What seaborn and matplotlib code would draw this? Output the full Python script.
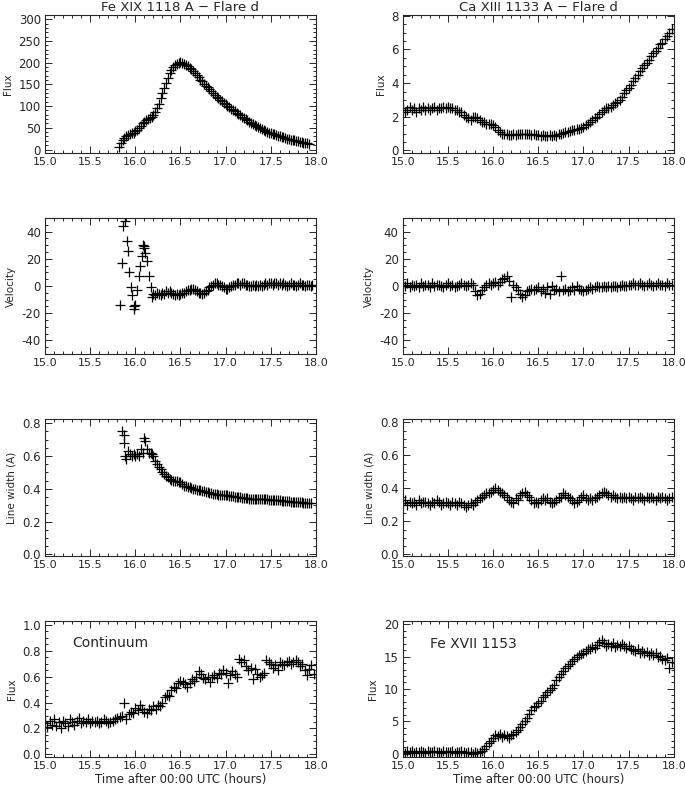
import numpy as np
import pandas as pd
import matplotlib
matplotlib.use("Agg")
import matplotlib.pyplot as plt
from matplotlib.ticker import MultipleLocator, FormatStrFormatter
import seaborn as sns

# ---------------------- DATOS ----------------------
# Fe XIX 1118 A: cadencia 0.02 h desde 15.82 h
fe19_t0 = 15.82
fe19_flux = [5, 15, 22, 27, 30, 33, 36, 38, 37, 42, 46, 50, 55, 60, 63, 67, 70, 72, 76, 79,
             86, 95, 105, 118, 130, 142, 153, 165, 176, 184, 190, 195, 198, 200, 201, 199, 197, 195,
             192, 188, 185, 181, 176, 171, 166, 161, 157, 152, 147, 143, 139, 134, 130, 126, 122,
             119, 115, 111, 107, 104, 100, 97, 94, 91, 88, 85, 82, 79, 76, 73, 70, 67, 64, 61, 58,
             56, 54, 51, 49, 47, 45, 43, 41, 39, 38, 36, 35, 33, 32, 31, 29, 28, 26, 25, 24, 23,
             22, 21, 20, 19, 18, 17, 16, 15, 14, 13]

# velocidad Fe XIX: rafaga inicial (tiempos irregulares) y despues cadencia 0.02 h desde 16.20
fe19_vel_burst_t = [15.83, 15.85, 15.86, 15.89, 15.905, 15.915, 15.93, 15.95, 15.96, 15.98,
                    15.99, 16.00, 16.02, 16.04, 16.05, 16.07, 16.08, 16.095, 16.10, 16.11,
                    16.13, 16.15, 16.17, 16.19]
fe19_vel_burst = [-14, 17, 44, 48, 33, 26, 10, -1, -7, -15, -17, -14, -3, 7, 15, 22, 30, 28, 29,
                  24, 18, 7, -1, -8]
fe19_vel_t0 = 16.20
fe19_vel = [-6, -7, -5, -6, -7, -5, -6, -4, -5, -4, -5, -6, -7, -6, -7, -6, -5, -5, -4, -3,
            -3, -2, -2, -3, -4, -5, -5, -6, -5, -4, -3, -1, 0, 1, 2, 2, 1, 1, 0, -1,
            -2, -2, -1, 0, 1, 1, 2, 2, 1, 2, 2, 1, 1, 0, 0, 1, 0, 1, 0, 1,
            0, 1, 2, 1, 2, 2, 1, 2, 2, 1, 2, 1, 2, 1, 0, 1, 2, 1, 1, 0,
            1, 2, 1, 1, 0, 1, 1, 0, 1]

fe19_wid_burst_t = [15.85, 15.87, 15.88, 15.89, 15.90, 15.92, 15.94, 15.96, 15.98, 16.00,
                    16.02, 16.04, 16.06, 16.08, 16.10, 16.11, 16.13, 16.15, 16.17, 16.19]
fe19_wid_burst = [0.75, 0.73, 0.68, 0.60, 0.58, 0.63, 0.61, 0.60, 0.61, 0.60,
                  0.61, 0.60, 0.64, 0.62, 0.71, 0.69, 0.64, 0.62, 0.62, 0.61]
fe19_wid_t0 = 16.20
fe19_wid = [0.60, 0.57, 0.55, 0.53, 0.52, 0.50, 0.49, 0.48, 0.47, 0.46, 0.455, 0.45, 0.45,
            0.445, 0.44, 0.44, 0.43, 0.42, 0.415, 0.41, 0.41, 0.405, 0.40, 0.40, 0.395,
            0.39, 0.39, 0.385, 0.385, 0.38, 0.38, 0.375, 0.375, 0.37, 0.37, 0.37, 0.365, 0.365,
            0.36, 0.36, 0.36, 0.36, 0.355, 0.355, 0.355, 0.35, 0.35, 0.35, 0.35, 0.345,
            0.345, 0.345, 0.345, 0.34, 0.34, 0.34, 0.34, 0.34, 0.34, 0.335, 0.335, 0.335, 0.335,
            0.335, 0.33, 0.33, 0.33, 0.33, 0.33, 0.33, 0.33, 0.325, 0.325, 0.325, 0.325,
            0.325, 0.32, 0.32, 0.32, 0.32, 0.32, 0.32, 0.32, 0.315, 0.315, 0.315, 0.315, 0.315]

# Ca XIII 1133 A, continuo y Fe XVII 1153: cadencia 0.025 h desde 15.00 h
full_t0 = 15.0
ca13_flux = [2.5, 2.3, 2.4, 2.6, 2.4, 2.5, 2.3, 2.5, 2.4, 2.6, 2.4, 2.5, 2.4, 2.5, 2.6, 2.4,
             2.5, 2.5, 2.6, 2.5, 2.6, 2.5, 2.5, 2.4, 2.4,
             2.3, 2.3, 2.1, 2.0, 1.9, 1.8, 2.0, 2.0, 1.9, 1.8, 1.7, 1.7, 1.6, 1.6, 1.6, 1.5, 1.4,
             1.2, 1.1, 1.0,
             1.0, 0.95, 0.9, 0.9, 0.95, 0.9, 1.0, 1.0, 1.0, 0.95, 1.0, 0.95, 0.9, 0.95, 0.9, 0.9,
             0.85, 0.9, 0.85, 0.85, 0.9, 0.85, 0.9, 0.85, 0.95,
             1.0, 1.05, 1.1, 1.1, 1.15, 1.2, 1.2, 1.25, 1.3, 1.35, 1.4, 1.5, 1.6, 1.7, 1.8, 1.9,
             2.0, 2.15, 2.3, 2.4, 2.5, 2.55, 2.6, 2.7, 2.8,
             2.9, 3.0, 3.2, 3.4, 3.6, 3.7, 3.9, 4.1, 4.3, 4.5, 4.7, 4.9, 5.1, 5.2, 5.4, 5.6, 5.8,
             5.9, 6.1, 6.3, 6.4, 6.6, 6.8, 7.0, 7.2]

ca13_vel = [1, 0, 2, -1, 1, 0, 1, -1, 2, 0, 1, 1, -1, 2, 0, 1, 1, 0, -1, 1, 2, 0, 1, -1, 0, 1,
            2, 1, 0, 1, 2, 1,
            -4, -7, -6, -3, -1, 1, 2, 1, 2, 3, 1, 3, 5, 6, 7, 4, -8, 1, -1, -3, -6, -8, -7, -4, -3,
            -2, -3, -2, -1, -4, -2, -5, -1, -6, 0, -3, -2, -4, 7, -3, -2, -4, -3, -1, -3, 0, -2,
            -3, -4, -3,
            -2, -1, -2, -1, 0, -1, -1, 0, -1, 0, -1, 0, 0, -1, 0, 1, 0, 0, 1, 1, 2, 1, 1, 2, 1,
            0, 1, 2, 1, 0, 1, 2, 1, 1, 0, 2, 1, 1]

ca13_wid = [0.31, 0.33, 0.30, 0.32, 0.31, 0.32, 0.30, 0.33, 0.31, 0.32, 0.32, 0.31, 0.30, 0.32,
            0.31, 0.33, 0.32, 0.30, 0.31, 0.32, 0.31, 0.30, 0.32, 0.31, 0.30, 0.32, 0.31, 0.30,
            0.29,
            0.30, 0.31, 0.30, 0.32, 0.33, 0.34, 0.35, 0.36, 0.37, 0.37, 0.38, 0.39, 0.40, 0.39,
            0.38, 0.37, 0.36, 0.35, 0.33, 0.32, 0.31,
            0.34, 0.33, 0.36, 0.37, 0.38, 0.36, 0.35, 0.33, 0.31, 0.32, 0.31, 0.33, 0.34, 0.33,
            0.34, 0.32, 0.31, 0.32, 0.33, 0.34, 0.35, 0.37, 0.36, 0.35, 0.34,
            0.33, 0.31, 0.32, 0.33, 0.35, 0.36, 0.34, 0.33, 0.34, 0.33, 0.34, 0.35, 0.36, 0.37,
            0.38, 0.37, 0.36, 0.35, 0.36, 0.35, 0.34, 0.35, 0.34, 0.35, 0.34,
            0.35, 0.34, 0.33, 0.35, 0.34, 0.35, 0.34, 0.33, 0.35, 0.34, 0.35, 0.34, 0.33, 0.35,
            0.34, 0.35, 0.34, 0.33, 0.34, 0.35]

cont_flux = [0.24, 0.21, 0.26, 0.23, 0.27, 0.22, 0.25, 0.20, 0.26, 0.24, 0.22, 0.27, 0.25, 0.23,
             0.26, 0.28, 0.24, 0.26, 0.25, 0.27, 0.24, 0.26, 0.25, 0.26, 0.24, 0.25, 0.27, 0.26,
             0.24, 0.25, 0.26,
             0.27, 0.28, 0.29, 0.30, 0.40, 0.27, 0.31, 0.33, 0.32, 0.36, 0.34, 0.38, 0.35, 0.33,
             0.32, 0.35, 0.34, 0.37, 0.35, 0.38, 0.37, 0.40, 0.44, 0.46, 0.45,
             0.50, 0.52, 0.51, 0.55, 0.57, 0.56, 0.54, 0.52, 0.55, 0.58, 0.57, 0.60, 0.64, 0.62,
             0.59, 0.58, 0.60, 0.56, 0.60, 0.61, 0.59, 0.63, 0.62, 0.65, 0.63,
             0.55, 0.61, 0.64, 0.62, 0.60, 0.74, 0.71, 0.73, 0.68, 0.65, 0.67, 0.58, 0.66, 0.62,
             0.60, 0.61, 0.63, 0.73, 0.71, 0.70, 0.67, 0.69, 0.65, 0.71, 0.70,
             0.69, 0.71, 0.72, 0.70, 0.71, 0.73, 0.71, 0.68, 0.70, 0.65, 0.61, 0.66, 0.69, 0.62]

fe17_flux = [0.3, 0.1, 0.4, 0.2, 0.5, 0.1, 0.3, 0.2, 0.4, 0.3, 0.1, 0.4, 0.2, 0.3, 0.5, 0.2,
             0.3, 0.1, 0.4, 0.3, 0.2, 0.3, 0.4, 0.1, 0.3, 0.2, 0.4, 0.3, 0.1, 0.2, 0.3, 0.0, 0.2,
             0.1, 0.3,
             0.4, 0.8, 1.2, 1.6, 2.0, 2.4, 2.9, 2.7, 3.0, 2.6, 2.9, 2.8, 2.5, 2.9, 3.1, 3.4, 3.7,
             4.1, 4.6, 5.0, 5.5, 6.1, 6.8, 7.2, 7.4,
             7.9, 8.2, 8.7, 9.1, 9.5, 9.8, 10.2, 10.6, 11.4, 11.9, 12.3, 12.8, 13.3, 13.6, 13.9,
             14.3, 14.6, 14.9, 15.2, 15.4, 15.6, 15.9, 16.1, 16.2, 16.4,
             16.3, 16.8, 17.2, 17.5, 17.1, 16.7, 17.0, 16.6, 17.1, 16.5, 16.8, 16.6, 17.0, 16.7,
             16.3, 16.6, 16.2, 16.0, 15.8, 16.1, 15.6, 15.9, 15.5, 15.7, 15.3,
             15.6, 15.2, 15.5, 15.0, 15.1, 14.7, 14.5, 14.8, 13.2, 14.2]

TITLES = ["Fe XIX 1118 A \u2212 Flare d", "Ca XIII 1133 A \u2212 Flare d"]
XLABEL = "Time after 00:00 UTC (hours)"
# --------------------------------------------------------------------------


def grid(t0, step, values):
    return np.round(t0 + step * np.arange(len(values)), 3)


sns.set_style("ticks")
plt.rcParams["font.family"] = ["DejaVu Sans"]
plt.rcParams.update({
    "xtick.direction": "in", "ytick.direction": "in",
    "xtick.top": True, "ytick.right": True,
    "xtick.minor.visible": True, "ytick.minor.visible": True,
    "xtick.major.size": 5, "ytick.major.size": 5,
    "xtick.minor.size": 2.5, "ytick.minor.size": 2.5,
    "xtick.major.width": 0.7, "ytick.major.width": 0.7,
    "xtick.minor.width": 0.7, "ytick.minor.width": 0.7,
    "axes.linewidth": 0.8, "font.size": 8,
    "xtick.labelsize": 8, "ytick.labelsize": 8.5,
})

fig = plt.figure(figsize=(6.85, 7.91), dpi=100)
lefts = [0.0657, 0.588]
bottoms = [0.8066, 0.5525, 0.2971, 0.0430]
heights = [0.1745, 0.172, 0.173, 0.172]
width = 0.3956
axes = [[fig.add_axes([l, b, width, h]) for l in lefts] for b, h in zip(bottoms, heights)]


def cruces(ax, t, y):
    df = pd.DataFrame({"t": t, "y": y})
    sns.scatterplot(data=df, x="t", y="y", marker="+", color="black", s=60,
                    linewidth=0.9, ax=ax, legend=False)


fe19_t = grid(fe19_t0, 0.02, fe19_flux)
cruces(axes[0][0], fe19_t, fe19_flux)
cruces(axes[1][0], np.concatenate([fe19_vel_burst_t, grid(fe19_vel_t0, 0.02, fe19_vel)]),
       fe19_vel_burst + fe19_vel)
cruces(axes[2][0], np.concatenate([fe19_wid_burst_t, grid(fe19_wid_t0, 0.02, fe19_wid)]),
       fe19_wid_burst + fe19_wid)
cruces(axes[3][0], grid(full_t0, 0.025, cont_flux), cont_flux)

cruces(axes[0][1], grid(full_t0, 0.025, ca13_flux), ca13_flux)
cruces(axes[1][1], grid(full_t0, 0.025, ca13_vel), ca13_vel)
cruces(axes[2][1], grid(full_t0, 0.025, ca13_wid), ca13_wid)
cruces(axes[3][1], grid(full_t0, 0.025, fe17_flux), fe17_flux)

# limites y ticks de cada panel: (ylim, mayor, menor, formato, etiqueta)
config = [
    [((-8, 310), 50, 10, "%d", "Flux"), ((-0.15, 8.05), 2, 0.5, "%d", "Flux")],
    [((-50, 50), 20, 5, "%d", "Velocity"), ((-50, 50), 20, 5, "%d", "Velocity")],
    [((-0.01, 0.825), 0.2, 0.05, "%.1f", "Line width (A)"),
     ((-0.01, 0.82), 0.2, 0.05, "%.1f", "Line width (A)")],
    [((-0.02, 1.03), 0.2, 0.05, "%.1f", "Flux"), ((-0.5, 20.5), 5, 1, "%d", "Flux")],
]

for i, row in enumerate(axes):
    for j, ax in enumerate(row):
        ylim, major, minor, fmt, label = config[i][j]
        ax.set_xlim(15.0, 18.0)
        ax.set_ylim(*ylim)
        ax.xaxis.set_major_locator(MultipleLocator(0.5))
        ax.xaxis.set_minor_locator(MultipleLocator(0.1))
        ax.xaxis.set_major_formatter(FormatStrFormatter("%.1f"))
        ax.yaxis.set_major_locator(MultipleLocator(major))
        ax.yaxis.set_minor_locator(MultipleLocator(minor))
        ax.yaxis.set_major_formatter(FormatStrFormatter(fmt))
        ax.set_ylabel(label, fontsize=7.5)
        ax.set_xlabel(XLABEL if i == 3 else "", fontsize=8.5, labelpad=1)
        ax.tick_params(which="both", pad=3)
        for s in ax.spines.values():
            s.set_visible(True)

axes[0][0].set_title(TITLES[0], fontsize=9.5, pad=3)
axes[0][1].set_title(TITLES[1], fontsize=9.5, pad=3)
axes[3][0].text(15.30, 0.86, "Continuum", fontsize=10, va="center")
axes[3][1].text(15.30, 17.0, "Fe XVII 1153", fontsize=10, va="center")

plt.savefig("out.png", dpi=100)
plt.close()
